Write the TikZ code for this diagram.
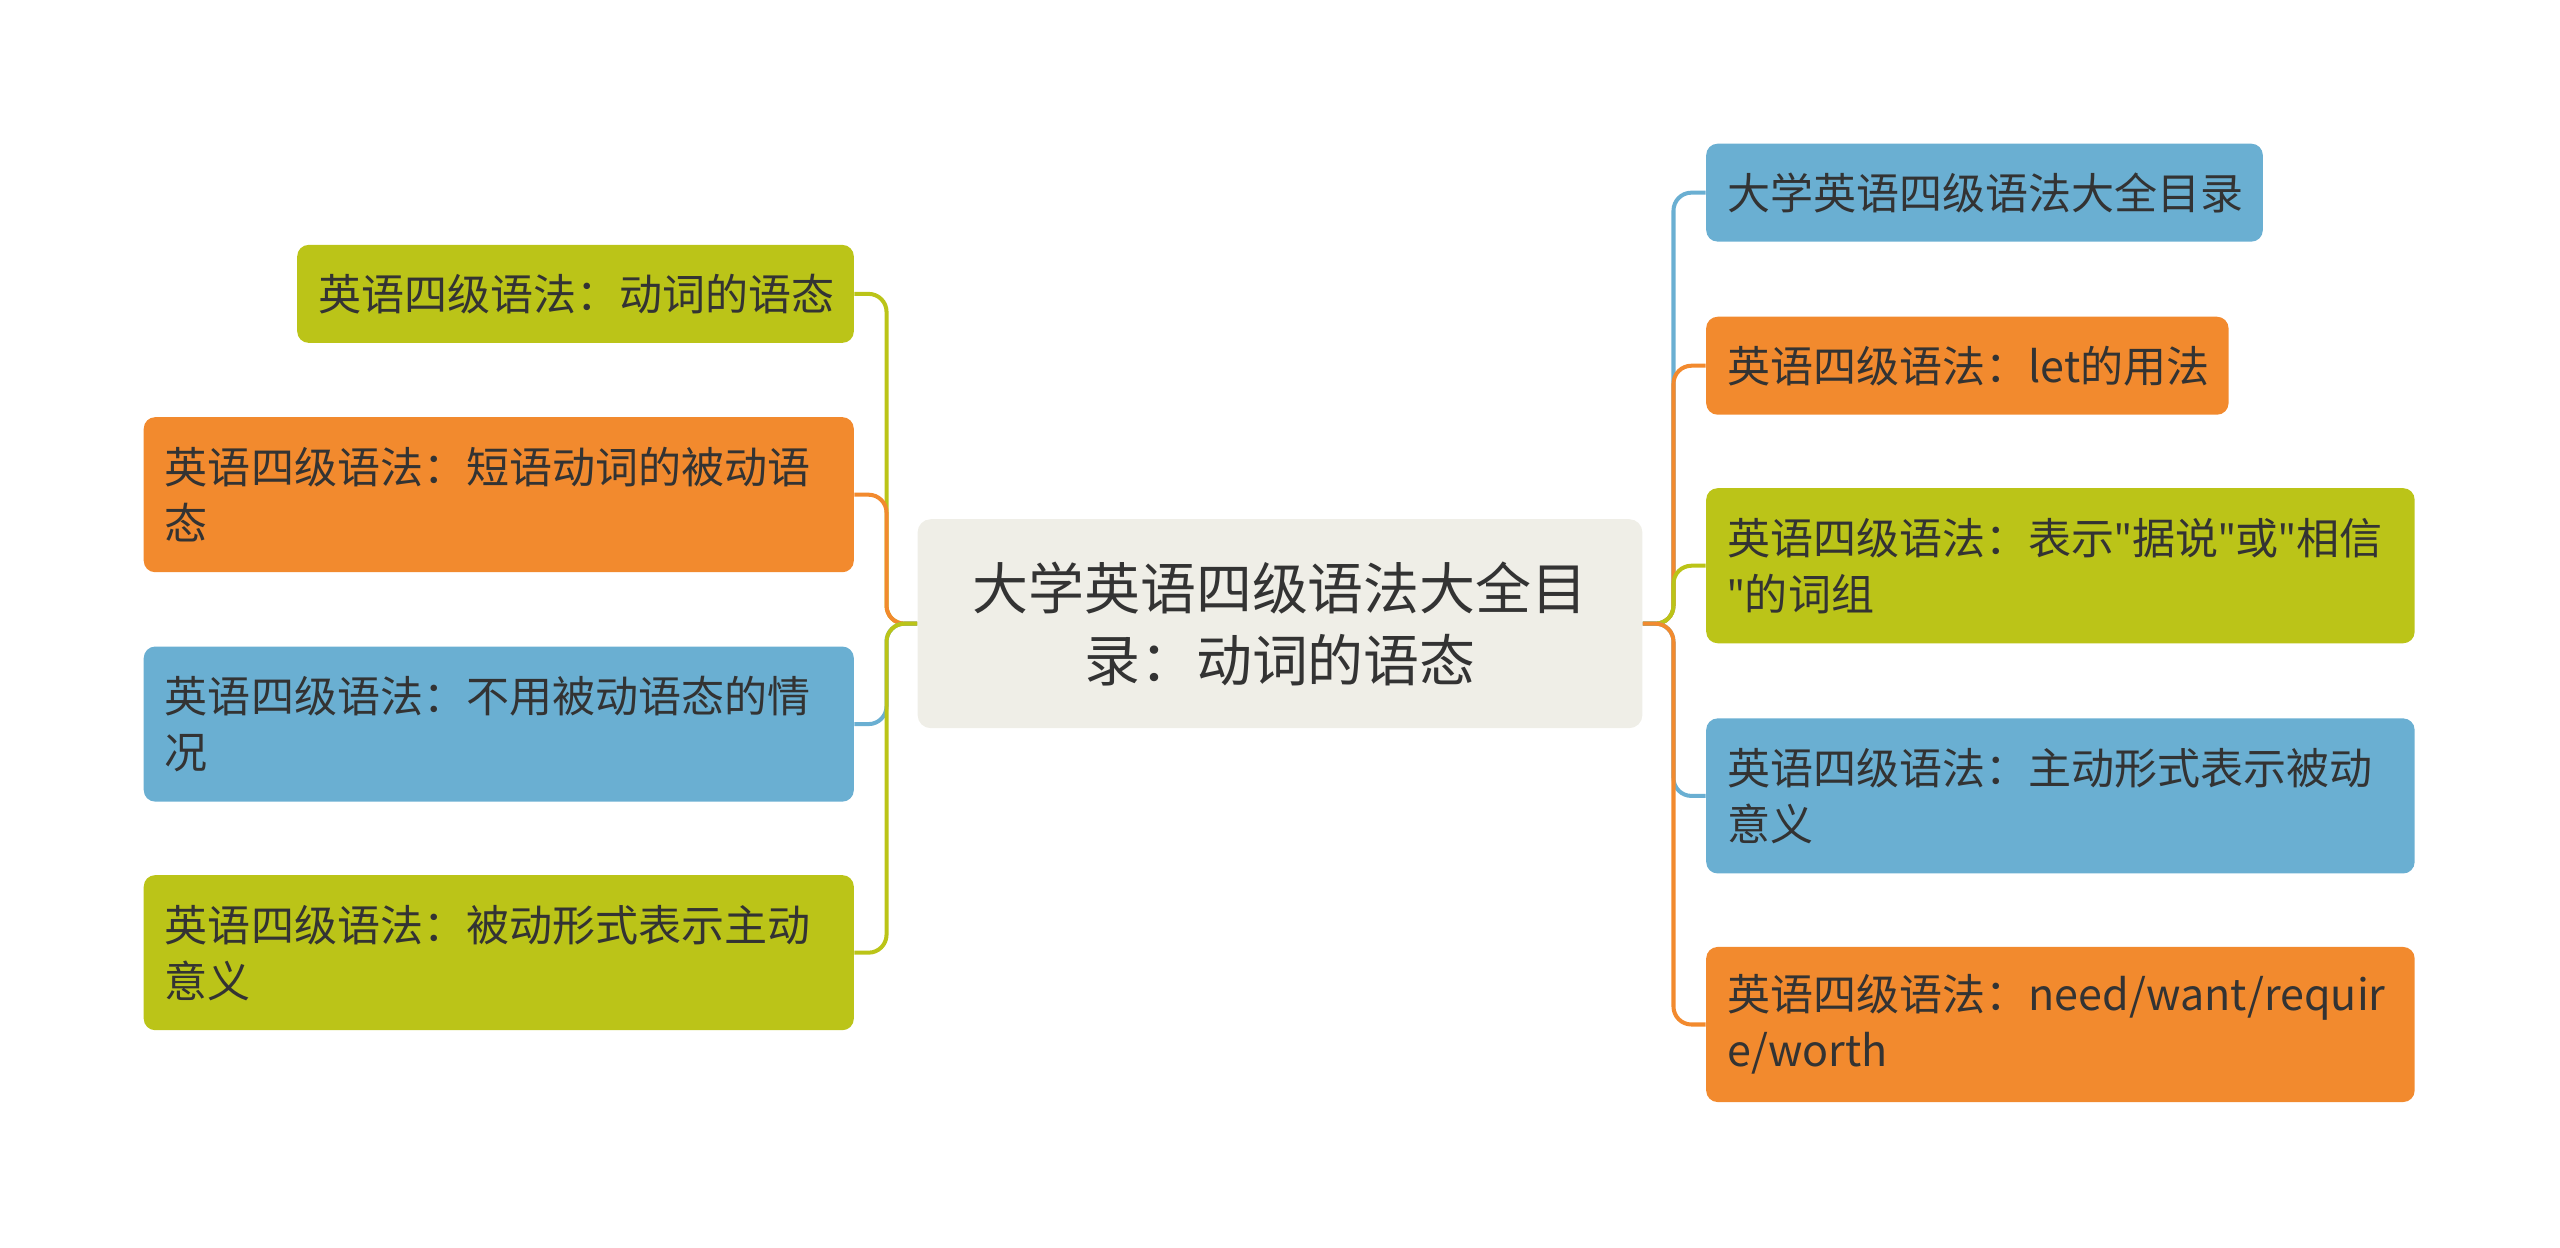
\documentclass[tikz,border=0pt]{standalone}
\usepackage{fontspec}
\setmainfont{Noto Sans CJK SC}
\newfontfamily\quotefont{Noto Sans}
\newcommand{\sq}{{\quotefont\char"22}}
\usetikzlibrary{positioning}
\definecolor{mapgreen}{HTML}{BBC418}
\definecolor{maporange}{HTML}{F28A2E}
\definecolor{mapblue}{HTML}{6AAFD2}
\definecolor{mapcenter}{HTML}{EFEEE7}
\definecolor{maptext}{HTML}{333333}
\tikzset{
  topic/.style={rectangle, rounded corners=0.14cm, inner xsep=0.26cm, inner ysep=0pt,
    align=left, text=maptext, font=\fontsize{15}{19.5}\selectfont},
  root/.style={rectangle, rounded corners=0.16cm, fill=mapcenter, inner xsep=0.26cm,
    align=center, text=maptext, font=\fontsize{19.5}{25}\selectfont,
    text width=8.36cm, minimum height=2.56cm},
  conn/.style={line width=1.4pt, rounded corners=0.22cm}
}
\begin{document}
\begin{tikzpicture}[x=0.02cm,y=-0.02cm]
\useasboundingbox (0,0) rectangle (1568,764);
\node[root] (c) at (784,382) {大学英语四级语法大全目\\录：动词的语态};

\node[topic, fill=mapgreen, text width=6.30cm, minimum height=1.2cm] (l1) at (352.5,180) {英语四级语法：动词的语态};
\node[topic, fill=maporange, text width=8.18cm, minimum height=1.9cm] (l2) at (305.5,303) {英语四级语法：短语动词的被动语\\态};
\node[topic, fill=mapblue, text width=8.18cm, minimum height=1.9cm] (l3) at (305.5,443.5) {英语四级语法：不用被动语态的情\\况};
\node[topic, fill=mapgreen, text width=8.18cm, minimum height=1.9cm] (l4) at (305.5,583.5) {英语四级语法：被动形式表示主动\\意义};

\node[topic, fill=mapblue, text width=6.30cm, minimum height=1.2cm] (r1) at (1215.5,118) {大学英语四级语法大全目录};
\node[topic, fill=maporange, text width=5.88cm, minimum height=1.2cm] (r2) at (1205,224) {英语四级语法：let的用法};
\node[topic, fill=mapgreen, text width=8.16cm, minimum height=1.9cm] (r3) at (1262,346.5) {英语四级语法：表示\sq 据说\sq 或\sq 相信\\\sq 的词组};
\node[topic, fill=mapblue, text width=8.16cm, minimum height=1.9cm] (r4) at (1262,487.5) {英语四级语法：主动形式表示被动\\意义};
\node[topic, fill=maporange, text width=8.16cm, minimum height=1.9cm] (r5) at (1262,627.5) {英语四级语法：need/want/requir\\e/worth};

\coordinate (lj) at (543,382);
\coordinate (rj) at (1025,382);
\draw[conn, mapgreen] (c.west) -- (lj) |- (l1.east);
\draw[conn, maporange] (c.west) -- (lj) |- (l2.east);
\draw[conn, mapblue] (c.west) -- (lj) |- (l3.east);
\draw[conn, mapgreen] (c.west) -- (lj) |- (l4.east);
\draw[conn, mapblue] (c.east) -- (rj) |- (r1.west);
\draw[conn, maporange] (c.east) -- (rj) |- (r2.west);
\draw[conn, mapgreen] (c.east) -- (rj) |- (r3.west);
\draw[conn, mapblue] (c.east) -- (rj) |- (r4.west);
\draw[conn, maporange] (c.east) -- (rj) |- (r5.west);
\end{tikzpicture}
\end{document}
